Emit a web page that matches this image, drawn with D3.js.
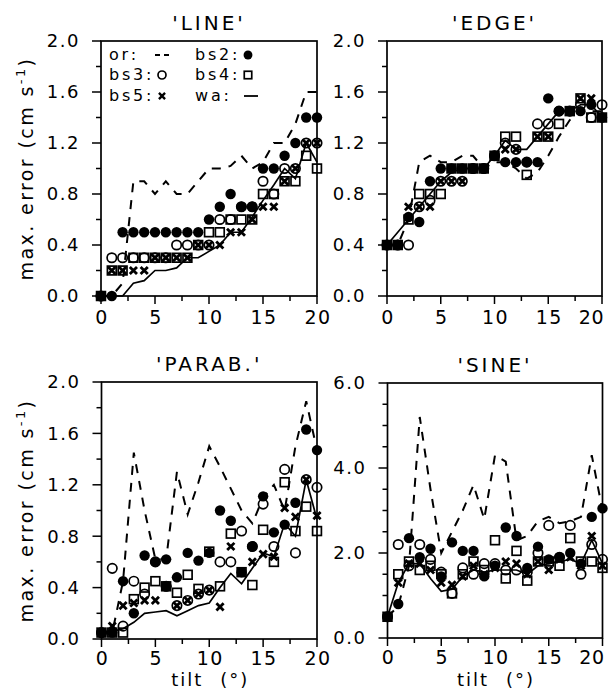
<!DOCTYPE html>
<html><head><meta charset="utf-8">
<script src="https://cdn.jsdelivr.net/npm/d3@7"></script>
<style>body{margin:0;background:#fff}svg{display:block}text{font-family:"DejaVu Sans",sans-serif;fill:#000}</style>
</head><body>
<svg id="c" width="615" height="694"></svg>
<script>
// ---------- DATA (tilt 0..20 degrees) ----------
const tilt = d3.range(0, 21);
const xTickLabels = [0, 5, 10, 15, 20];
const yTicks2 = [0, 0.4, 0.8, 1.2, 1.6, 2.0];
const yTicks6 = [0, 2, 4, 6];
const titles = ["'LINE'", "'EDGE'", "'PARAB.'", "'SINE'"];

const lineOr  = [0,0,0.1,0.9,0.9,0.8,0.9,0.8,0.8,0.9,1.0,1.0,1.02,1.1,1.0,1.05,1.2,1.2,1.35,1.6,1.6];
const lineBs2 = [0,0,0.5,0.5,0.5,0.5,0.5,0.5,0.5,0.5,0.6,0.7,0.8,0.7,0.7,1.0,1.0,1.1,1.2,1.4,1.4];
const lineBs3 = [0,0.3,0.3,0.3,0.3,0.3,0.3,0.4,0.4,0.4,0.4,0.6,0.6,0.7,0.7,0.9,0.8,1.0,1.0,1.2,1.2];
const lineBs4 = [0,0.2,0.2,0.3,0.3,0.3,0.3,0.3,0.3,0.4,0.5,0.5,0.6,0.6,0.6,0.8,0.8,0.9,0.9,1.1,1.0];
const lineBs5 = [0,0.2,0.2,0.2,0.2,0.3,0.3,0.3,0.3,0.4,0.4,0.4,0.5,0.5,0.6,0.7,0.7,0.9,1.0,1.2,1.2];
const lineWa  = [0,0,0,0.1,0.12,0.2,0.2,0.22,0.3,0.3,0.35,0.4,0.5,0.5,0.62,0.75,0.87,1.0,0.92,1.2,1.05];

const edgeOr  = [0.4,0.4,0.6,1.05,1.1,1.05,1.05,1.1,1.1,1.0,1.05,1.05,1.0,0.92,0.97,1.1,1.25,1.38,1.45,1.45,1.45];
const edgeBs2 = [0.4,0.4,0.62,0.58,0.9,1.0,1.0,1.0,1.0,1.0,1.1,1.05,1.05,1.05,1.05,1.55,1.45,1.45,1.45,1.5,1.4];
const edgeBs3 = [0.4,0.4,0.4,0.7,0.75,0.9,0.9,0.9,1.0,1.0,1.1,1.2,1.15,1.05,1.35,1.35,1.45,1.45,1.5,1.4,1.5];
const edgeBs4 = [0.4,0.4,0.6,0.8,0.8,0.8,1.0,1.0,1.0,1.0,1.1,1.25,1.25,0.95,1.25,1.25,1.35,1.45,1.55,1.4,1.4];
const edgeBs5 = [0.4,0.4,0.7,0.7,0.7,0.9,0.9,0.9,1.0,1.0,1.1,1.15,1.15,1.05,1.25,1.25,1.45,1.45,1.55,1.55,1.4];
const edgeWa  = [0.4,0.5,0.6,0.7,0.8,0.9,0.97,1.0,1.0,1.0,1.1,1.22,1.15,1.15,1.25,1.35,1.45,1.45,1.5,1.5,1.4];

const parabOr  = [0.05,0.05,0.45,1.45,1.0,0.62,0.62,1.3,0.97,1.22,1.5,1.34,1.17,1.0,0.9,1.1,1.2,1.0,1.5,1.85,1.47];
const parabBs2 = [0.05,0.05,0.45,0.2,0.65,0.6,0.62,0.48,0.67,0.61,0.67,1.0,0.92,0.52,0.72,1.11,0.83,0.89,1.06,1.63,1.47];
const parabBs2Extra = [[6, 0.41]];
const parabBs3 = [0.05,0.55,0.1,0.45,0.35,0.6,0.41,0.26,0.3,0.35,0.38,0.6,0.6,0.84,0.72,1.05,0.72,1.32,0.67,1.24,1.18];
const parabBs4 = [0.05,0.05,0.05,0.31,0.4,0.45,0.41,0.36,0.5,0.39,0.68,0.41,0.82,0.52,0.42,0.85,0.6,1.22,0.84,1.03,0.84];
const parabBs5 = [0.05,0.1,0.26,0.28,0.3,0.3,0.41,0.26,0.3,0.35,0.38,0.25,0.72,0.52,0.6,0.66,0.64,1.02,0.95,1.24,0.96];
const parabWa  = [0.05,0.06,0.08,0.13,0.2,0.21,0.22,0.18,0.22,0.26,0.28,0.4,0.51,0.43,0.55,0.67,0.64,0.9,0.8,1.24,0.93];

const sineOr  = [0.5,0.75,1.7,5.2,3.5,2.0,2.5,3.0,3.6,2.8,4.3,4.15,2.3,2.4,2.75,2.85,2.7,2.75,2.85,4.3,3.0];
const sineBs2 = [0.5,0.8,2.35,1.9,2.1,1.45,2.25,2.05,2.05,1.45,1.7,2.6,2.4,1.65,2.15,1.85,1.9,2.0,1.75,2.85,3.05];
const sineBs3 = [0.5,2.2,1.7,2.2,1.85,1.55,1.05,1.65,1.5,1.75,1.75,1.6,1.6,1.55,2.0,2.65,1.9,2.65,1.5,2.2,1.85];
const sineBs4 = [0.5,1.5,1.8,1.6,1.7,1.5,1.05,1.5,1.8,1.6,2.3,1.4,2.05,1.35,1.8,1.8,1.7,2.35,1.8,1.8,1.65];
const sineBs5 = [0.5,1.3,1.75,1.75,1.6,1.3,1.25,1.45,1.7,1.5,1.65,1.8,1.75,1.5,1.8,1.6,1.85,1.9,1.7,2.4,1.7];
const sineWa  = [0.5,1.3,1.75,1.75,1.4,1.1,1.15,1.45,1.6,1.55,1.6,1.6,1.6,1.5,1.7,1.75,1.8,1.85,1.75,2.3,1.75];

const legendLabels = ["or:", "bs2:", "bs3:", "bs4:", "bs5:", "wa:"];
const legendKeys   = ["or", "bs2", "bs3", "bs4", "bs5", "wa"];

// ---------- LAYOUT ----------
const panels = [
  {title: titles[0], box:{l:101, r:317, t:41, b:296}, yMax:2, yMajor:yTicks2, yMinorStep:0.2, xlabOff:28,
   s:{or:lineOr, bs2:lineBs2, bs3:lineBs3, bs4:lineBs4, bs5:lineBs5, wa:lineWa}, legend:true, ylab:true},
  {title: titles[1], box:{l:387, r:602, t:41, b:296}, yMax:2, yMajor:yTicks2, yMinorStep:0.2, xlabOff:28, endAlign:true,
   s:{or:edgeOr, bs2:edgeBs2, bs3:edgeBs3, bs4:edgeBs4, bs5:edgeBs5, wa:edgeWa}},
  {title: titles[2], box:{l:101.5, r:317, t:382, b:639}, yMax:2, yMajor:yTicks2, yMinorStep:0.2, xlabOff:26,
   s:{or:parabOr, bs2:parabBs2, bs3:parabBs3, bs4:parabBs4, bs5:parabBs5, wa:parabWa}, extra:parabBs2Extra, ylab:true, xlab:true},
  {title: titles[3], box:{l:387.5, r:602.5, t:383, b:638}, yMax:6, yMajor:yTicks6, yMinorStep:0.5, xlabOff:26, endAlign:true,
   s:{or:sineOr, bs2:sineBs2, bs3:sineBs3, bs4:sineBs4, bs5:sineBs5, wa:sineWa}, xlab:true}
];
const fmt = d3.format(".1f");
const svg = d3.select("#c");

function marker(g, type, cx, cy, sc) {
  sc = sc || 1;
  if (type === "bs2") {
    g.append("circle").attr("cx", cx).attr("cy", cy).attr("r", 5.2 * sc).attr("fill", "#000");
  } else if (type === "bs3") {
    g.append("circle").attr("cx", cx).attr("cy", cy).attr("r", 4.7 * sc)
      .attr("fill", "none").attr("stroke", "#000").attr("stroke-width", 1.7);
  } else if (type === "bs4") {
    const h = 4.4 * sc;
    g.append("rect").attr("x", cx - h).attr("y", cy - h).attr("width", 2 * h).attr("height", 2 * h)
      .attr("fill", "none").attr("stroke", "#000").attr("stroke-width", 1.7);
  } else if (type === "bs5") {
    const h = 3.6 * sc;
    g.append("path").attr("d", `M${cx-h},${cy-h}L${cx+h},${cy+h}M${cx-h},${cy+h}L${cx+h},${cy-h}`)
      .attr("stroke", "#000").attr("stroke-width", 2.8 * sc).attr("fill", "none");
  }
}

panels.forEach(p => {
  const b = p.box;
  const x = d3.scaleLinear().domain([0, 20]).range([b.l, b.r]);
  const y = d3.scaleLinear().domain([0, p.yMax]).range([b.b, b.t]);
  const g = svg.append("g");

  // y ticks (outward)
  const minor = d3.range(0, p.yMax + 1e-9, p.yMinorStep);
  minor.forEach(v => {
    const isMaj = p.yMajor.some(m => Math.abs(m - v) < 1e-6);
    g.append("line").attr("x1", b.l).attr("x2", b.l - (isMaj ? 9 : 5))
      .attr("y1", y(v)).attr("y2", y(v)).attr("stroke", "#000").attr("stroke-width", 1.5);
  });
  p.yMajor.forEach(v => {
    g.append("text").attr("x", b.l - 21).attr("y", y(v)).attr("dy", "0.36em")
      .attr("text-anchor", "end").attr("font-size", 18).attr("letter-spacing", 1.5)
      .text(fmt(v));
  });
  // x ticks (outward)
  d3.range(0, 20.01, 2.5).forEach(v => {
    const isMaj = v % 5 === 0;
    g.append("line").attr("x1", x(v)).attr("x2", x(v)).attr("y1", b.b).attr("y2", b.b + (isMaj ? 8 : 5))
      .attr("stroke", "#000").attr("stroke-width", 1.5);
  });
  xTickLabels.forEach(v => {
    const last = v === 20 && p.endAlign;
    g.append("text").attr("x", last ? x(v) + 2 : x(v) + 1).attr("y", b.b + p.xlabOff)
      .attr("text-anchor", last ? "end" : "middle")
      .attr("font-size", 19).attr("letter-spacing", last ? 0.5 : 1.5).text(v);
  });
  // frame
  g.append("rect").attr("x", b.l).attr("y", b.t).attr("width", b.r - b.l).attr("height", b.b - b.t)
    .attr("fill", "none").attr("stroke", "#000").attr("stroke-width", 1.7);

  // title
  g.append("text").attr("x", (b.l + b.r) / 2).attr("y", b.t - 11).attr("text-anchor", "middle")
    .attr("font-size", 20).attr("letter-spacing", 3).text(p.title);

  // lines
  const ln = d3.line().x((d, i) => x(tilt[i])).y(d => y(d));
  g.append("path").attr("d", ln(p.s.or)).attr("fill", "none").attr("stroke", "#000")
    .attr("stroke-width", 2).attr("stroke-dasharray", "9,8");
  g.append("path").attr("d", ln(p.s.wa)).attr("fill", "none").attr("stroke", "#000")
    .attr("stroke-width", 1.7);

  // markers
  ["bs4", "bs3", "bs5", "bs2"].forEach(k => {
    p.s[k].forEach((v, i) => marker(g, k, x(tilt[i]), y(v)));
  });
  if (p.extra) p.extra.forEach(d => marker(g, "bs2", x(d[0]), y(d[1])));

  // y label
  if (p.ylab) {
    const cy = (b.t + b.b) / 2;
    const t = g.append("text").attr("transform", `translate(33,${cy}) rotate(-90)`)
      .attr("text-anchor", "middle").attr("font-size", 19).attr("letter-spacing", 2.4);
    t.append("tspan").text("max. error (cm s");
    t.append("tspan").attr("font-size", 13).attr("dy", -8).text("-1");
    t.append("tspan").attr("dy", 8).text(")");
  }
  if (p.xlab) {
    g.append("text").attr("x", (b.l + b.r) / 2 + 1).attr("y", 686).attr("text-anchor", "middle")
      .attr("font-size", 18).attr("letter-spacing", 2).attr("word-spacing", 9).text("tilt (°)");
  }

  // legend
  if (p.legend) {
    legendLabels.forEach((lab, i) => {
      const col = i % 2, row = Math.floor(i / 2);
      const tx = col === 0 ? 109 : 195;
      const ty = [60, 80, 101][row];
      g.append("text").attr("x", tx).attr("y", ty).attr("font-size", 16).attr("letter-spacing", 2.8).text(lab);
      const mx = col === 0 ? 162 : 248, my = ty - 5;
      const k = legendKeys[i];
      if (k === "or") {
        g.append("line").attr("x1", mx - 7).attr("x2", mx + 8).attr("y1", my).attr("y2", my)
          .attr("stroke", "#000").attr("stroke-width", 1.8).attr("stroke-dasharray", "5,4");
      } else if (k === "wa") {
        g.append("line").attr("x1", mx - 4).attr("x2", mx + 10).attr("y1", my).attr("y2", my)
          .attr("stroke", "#000").attr("stroke-width", 1.8);
      } else {
        marker(g, k, mx, my, 0.85);
      }
    });
  }
});
</script>
</body></html>
